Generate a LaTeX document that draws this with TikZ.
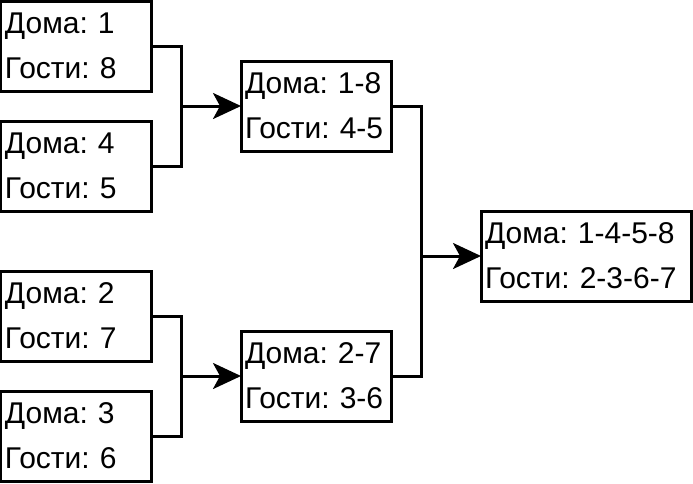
\documentclass[tikz,border=0pt]{standalone}
\usepackage{fontspec}
\setmainfont{Liberation Sans}
\frenchspacing
\usetikzlibrary{arrows.meta, positioning}

\begin{document}
\begin{tikzpicture}[
  line width=3pt,
  node distance=30pt and 90pt,
  box/.style={rectangle, draw, outer sep=0pt, inner xsep=4pt, align=left, text width=142pt, minimum height=90pt, font=\fontsize{30}{45}\selectfont},
  wide/.style={box, text width=202pt},
  arrow/.style={-{Stealth[length=28pt, width=26pt, inset=7pt]}},
  link/.style={line join=miter}
]
\useasboundingbox (-76pt,46pt) rectangle (617pt,-437pt);

\node[box] (p1) {Дома: 1\\Гости: 8};
\node[box, below=of p1] (p2) {Дома: 4\\Гости: 5};
\node[box, below=60pt of p2] (p3) {Дома: 2\\Гости: 7};
\node[box, below=of p3] (p4) {Дома: 3\\Гости: 6};

\node[box, below right=-30pt and 90pt of p1] (m1) {Дома: 1-8\\Гости: 4-5};
\node[box, below right=-30pt and 90pt of p3] (m2) {Дома: 2-7\\Гости: 3-6};

\node[wide, below right=60pt and 90pt of m1] (fin) {Дома: 1-4-5-8\\Гости: 2-3-6-7};

\coordinate[left=60pt of m1.west] (j1);
\coordinate[left=60pt of m2.west] (j2);
\coordinate[left=60pt of fin.west] (j3);

\draw[link] (p1.east) -| (j1) |- (p2.east);
\draw[link] (p3.east) -| (j2) |- (p4.east);
\draw[link] (m1.east) -| (j3) |- (m2.east);
\draw[arrow] (j1) -- (m1);
\draw[arrow] (j2) -- (m2);
\draw[arrow] (j3) -- (fin);
\end{tikzpicture}
\end{document}
